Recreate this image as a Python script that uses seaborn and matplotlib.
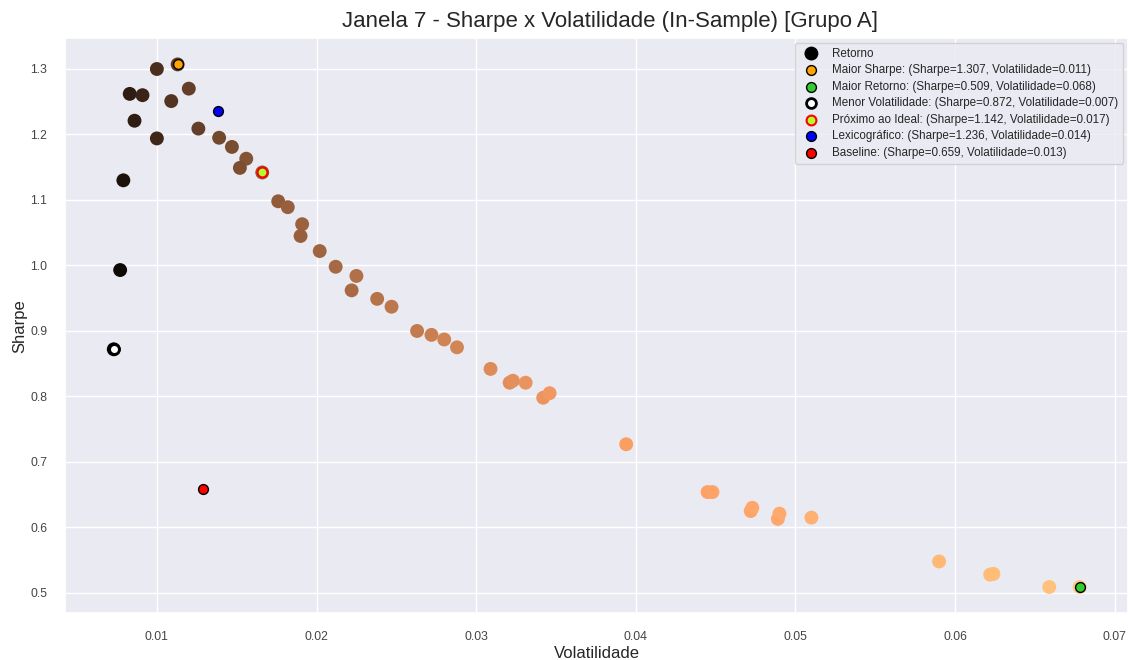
import matplotlib
matplotlib.use("Agg")
import matplotlib.pyplot as plt
import seaborn as sns
import pandas as pd

# Frontier portfolios (in-sample, window 7)
volatilidade = [
    0.0073, 0.0077, 0.0079, 0.0083, 0.0091, 0.0086, 0.0100, 0.0100, 0.0109, 0.0113,
    0.0120, 0.0126, 0.0139, 0.0147, 0.0156, 0.0152, 0.0166, 0.0176, 0.0182, 0.0191,
    0.0190, 0.0202, 0.0212, 0.0225, 0.0222, 0.0238, 0.0247, 0.0263, 0.0272, 0.0280,
    0.0288, 0.0309, 0.0321, 0.0323, 0.0331, 0.0342, 0.0346, 0.0394, 0.0445, 0.0448,
    0.0472, 0.0473, 0.0489, 0.0490, 0.0510, 0.0590, 0.0622, 0.0624, 0.0659, 0.0678,
]
sharpe = [
    0.872, 0.993, 1.130, 1.262, 1.260, 1.221, 1.300, 1.194, 1.251, 1.307,
    1.270, 1.209, 1.195, 1.181, 1.163, 1.149, 1.142, 1.098, 1.089, 1.063,
    1.045, 1.022, 0.998, 0.984, 0.962, 0.949, 0.937, 0.900, 0.894, 0.887,
    0.875, 0.842, 0.821, 0.824, 0.821, 0.798, 0.805, 0.727, 0.654, 0.654,
    0.625, 0.630, 0.613, 0.621, 0.615, 0.548, 0.528, 0.529, 0.509, 0.509,
]
retorno = [
    0.00637, 0.00765, 0.00893, 0.01047, 0.01147, 0.01050, 0.01300, 0.01194, 0.01364, 0.01477,
    0.01524, 0.01523, 0.01661, 0.01736, 0.01814, 0.01746, 0.01896, 0.01932, 0.01982, 0.02030,
    0.01986, 0.02064, 0.02116, 0.02214, 0.02136, 0.02259, 0.02314, 0.02367, 0.02432, 0.02484,
    0.02520, 0.02602, 0.02635, 0.02662, 0.02718, 0.02729, 0.02785, 0.02864, 0.02910, 0.02930,
    0.02950, 0.02980, 0.02998, 0.03043, 0.03137, 0.03233, 0.03284, 0.03301, 0.03354, 0.03451,
]

# Highlighted portfolios
destaque_nomes = ["Maior Sharpe", "Maior Retorno", "Menor Volatilidade",
                  "Próximo ao Ideal", "Lexicográfico", "Baseline"]
destaque_sharpe = [1.307, 0.509, 0.872, 1.142, 1.236, 0.659]
destaque_vol = [0.0113, 0.0678, 0.0073, 0.0166, 0.0138, 0.0129]
destaque_face = ["orange", "limegreen", "white", "greenyellow", "blue", "red"]
destaque_borda = ["black", "black", "black", "red", "black", "black"]
destaque_lw = [1.0, 1.0, 2.0, 1.5, 1.0, 1.0]

df = pd.DataFrame({"Volatilidade": volatilidade, "Sharpe": sharpe, "Retorno": retorno})

sns.set_theme(style="darkgrid")
plt.rcParams["font.family"] = ["Liberation Sans", "DejaVu Sans"]

fig, ax = plt.subplots(figsize=(11.29, 6.6), dpi=100)
fig.subplots_adjust(left=0.058, right=0.999, top=0.942, bottom=0.071)

sns.scatterplot(data=df, x="Volatilidade", y="Sharpe", hue="Retorno",
                palette="copper", s=100, linewidth=0, legend=False,
                label="Retorno", ax=ax)

for nome, sh, vol, fc, ec, lw in zip(destaque_nomes, destaque_sharpe, destaque_vol,
                                     destaque_face, destaque_borda, destaque_lw):
    ax.scatter(vol, sh, s=50, c=fc, edgecolors=ec, linewidths=lw, zorder=5,
               label=f"{nome}: (Sharpe={sh:.3f}, Volatilidade={vol:.3f})")

ax.set_title("Janela 7 - Sharpe x Volatilidade (In-Sample) [Grupo A]",
             fontsize=16, pad=8, x=0.513)
ax.set_xlabel("Volatilidade", fontsize=12, labelpad=2)
ax.set_ylabel("Sharpe", fontsize=12, labelpad=2)
ax.tick_params(axis="both", labelsize=8.8, colors="#444444", pad=7)
ax.legend(loc="upper right", fontsize=8.4, labelspacing=0.39, borderaxespad=0.4)

fig.savefig("out.png", dpi=100)
